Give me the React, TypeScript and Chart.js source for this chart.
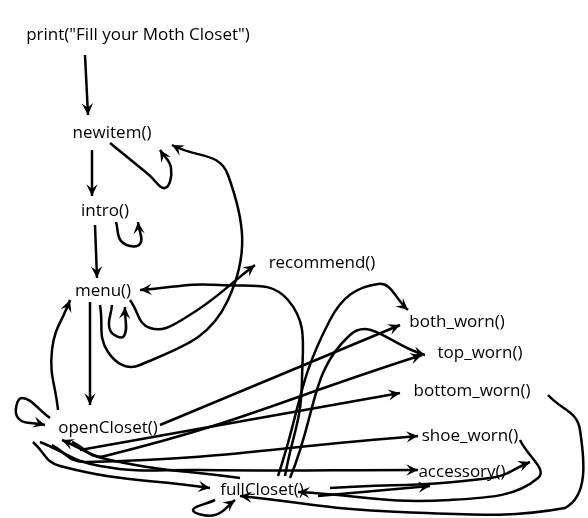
import { useEffect, useRef } from 'react'
import Chart from 'chart.js/auto'

// node labels and their positions on the sketch (pixel space 588x518)
const nodeLabels = [
  'print("Fill your Moth Closet")', 'newitem()', 'intro()', 'menu()', 'recommend()',
  'both_worn()', 'top_worn()', 'bottom_worn()', 'openCloset()', 'shoe_worn()',
  'accessory()', 'fullCloset()',
]
const nodeX = [138, 112, 105, 103, 322, 457, 480, 472, 108, 470, 462, 262]
const nodeY = [35, 133, 211, 291, 263, 322, 353, 391, 428, 436, 472, 490]

// hand-drawn arrows, each a list of [x, y] points ending at the arrowhead
const edges: number[][][] = [
  [[85, 55], [88, 115]],
  [[92, 150], [92, 196]],
  [[110, 143], [148, 174], [165, 188], [171, 168], [160, 150]],
  [[95, 225], [97, 278]],
  [[116, 222], [122, 242], [140, 244], [138, 222]],
  [[90, 302], [90, 405]],
  [[58, 410], [52, 350], [70, 300]],
  [[112, 305], [110, 330], [124, 336], [125, 307]],
  [[100, 305], [108, 352], [140, 365], [228, 300], [228, 175], [172, 145]],
  [[130, 300], [150, 328], [185, 318], [255, 265]],
  [[285, 476], [302, 380], [288, 300], [220, 285], [140, 290]],
  [[278, 476], [330, 320], [378, 284], [408, 310]],
  [[290, 478], [350, 335], [425, 355]],
  [[160, 425], [400, 325]],
  [[72, 442], [105, 456], [422, 355]],
  [[80, 450], [400, 393]],
  [[52, 445], [85, 462], [418, 436]],
  [[40, 442], [100, 466], [200, 470], [418, 470]],
  [[33, 442], [60, 466], [210, 488]],
  [[50, 418], [22, 398], [18, 418], [45, 425]],
  [[240, 478], [110, 460], [62, 440]],
  [[215, 500], [193, 510], [215, 515], [235, 500]],
  [[520, 440], [538, 478], [450, 500], [298, 492]],
  [[548, 395], [580, 430], [565, 508], [400, 512], [240, 496]],
  [[318, 496], [430, 486]],
  [[330, 488], [490, 478], [530, 462]],
]

export default function App() {
  const canvasRef = useRef<HTMLCanvasElement | null>(null)
  const chartRef = useRef<Chart | null>(null)

  useEffect(() => {
    document.body.style.margin = '0'
    const ctx = canvasRef.current?.getContext('2d')
    if (!ctx) return

    const arrowHeads = {
      id: 'arrowHeads',
      afterDatasetsDraw(chart: any) {
        const c = chart.ctx
        chart.data.datasets.forEach((ds: any, i: number) => {
          if (ds.label !== 'edge') return
          const pts = chart.getDatasetMeta(i).data
          const end = pts[pts.length - 1]
          const prev = pts[pts.length - 2]
          const fx = end.cp1x !== undefined && pts.length > 2 ? end.cp1x : prev.x
          const fy = end.cp1y !== undefined && pts.length > 2 ? end.cp1y : prev.y
          const a = Math.atan2(end.y - fy, end.x - fx)
          const L = 13
          c.save()
          c.fillStyle = '#000'
          c.beginPath()
          c.moveTo(end.x, end.y)
          c.lineTo(end.x - L * Math.cos(a - 0.45), end.y - L * Math.sin(a - 0.45))
          c.lineTo(end.x - 0.55 * L * Math.cos(a), end.y - 0.55 * L * Math.sin(a))
          c.lineTo(end.x - L * Math.cos(a + 0.45), end.y - L * Math.sin(a + 0.45))
          c.closePath()
          c.fill()
          c.restore()
        })
      },
    }

    const nodeText = {
      id: 'nodeText',
      afterDraw(chart: any) {
        const c = chart.ctx
        const meta = chart.getDatasetMeta(0)
        c.save()
        c.font = '17px "Open Sans", "DejaVu Sans", sans-serif'
        c.textAlign = 'center'
        c.textBaseline = 'middle'
        c.fillStyle = '#000'
        meta.data.forEach((p: any, i: number) => {
          c.fillText(nodeLabels[i], p.x, p.y)
        })
        c.restore()
      },
    }

    chartRef.current = new Chart(ctx, {
      type: 'scatter',
      data: {
        datasets: [
          {
            label: 'nodes',
            data: nodeX.map((x, i) => ({ x, y: nodeY[i] })),
            pointRadius: 0,
          },
          ...edges.map((e) => ({
            label: 'edge',
            data: e.map(([x, y]) => ({ x, y })),
            showLine: true,
            tension: 0.45,
            borderColor: '#000',
            borderWidth: 2.5,
            pointRadius: 0,
          })),
        ],
      },
      options: {
        responsive: false,
        animation: false,
        layout: { padding: 0 },
        plugins: { legend: { display: false }, tooltip: { enabled: false } },
        scales: {
          x: { display: false, min: 0, max: 588 },
          y: { display: false, min: 0, max: 518, reverse: true },
        },
      },
      plugins: [arrowHeads, nodeText],
    })

    return () => {
      chartRef.current?.destroy()
      chartRef.current = null
    }
  }, [])

  return (
    <div style={{ width: 588, height: 518, background: '#fff' }}>
      <canvas ref={canvasRef} width={588} height={518} />
    </div>
  )
}
